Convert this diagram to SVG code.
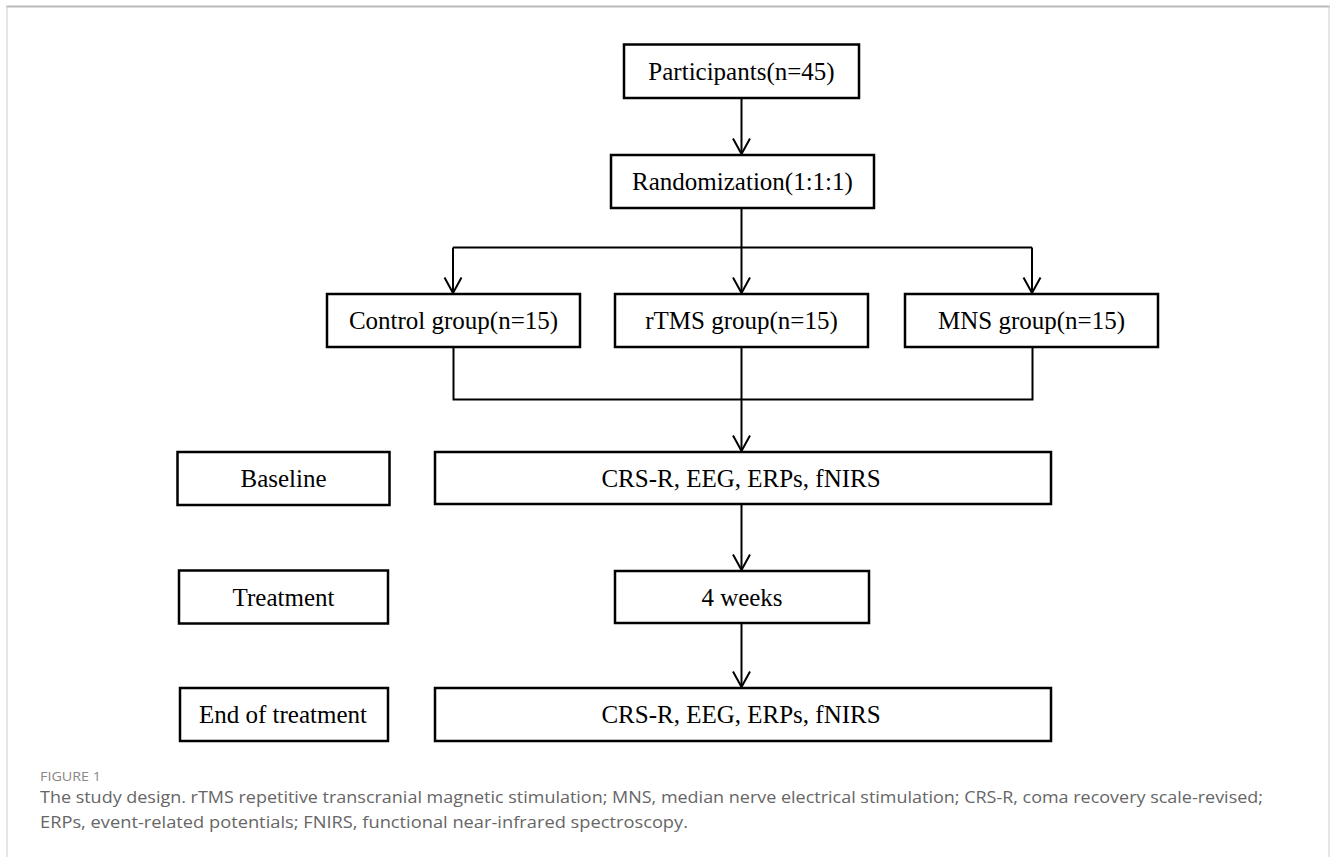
<svg xmlns="http://www.w3.org/2000/svg" width="1330" height="857" viewBox="0 0 1330 857">
<style>
.box{fill:#fff;stroke:#000;stroke-width:2.5}
.lbl{font-family:"Liberation Serif","Times New Roman",serif;font-size:25px;fill:#000;text-anchor:middle}
.con{fill:none;stroke:#000;stroke-width:2}
.cap{font-family:"Open Sans","Noto Sans",sans-serif;font-size:17px;fill:#666}
.fig{font-family:"Open Sans","Noto Sans",sans-serif;font-size:13px;fill:#888}
</style>
<defs>
<marker id="arr" markerUnits="userSpaceOnUse" viewBox="-18 -10 20 20" markerWidth="20" markerHeight="20" refX="0" refY="0" orient="auto">
<path d="M-15.5,-8.5 L0,0 L-15.5,8.5" fill="none" stroke="#000" stroke-width="2"/>
</marker>
</defs>
<rect width="1330" height="857" fill="#fff"/>
<g id="frame">
<line x1="6" y1="6.5" x2="1330" y2="6.5" stroke="#bbb" stroke-width="2"/>
<line x1="7" y1="6" x2="7" y2="857" stroke="#ccc" stroke-width="1"/>
<line x1="1329" y1="6" x2="1329" y2="857" stroke="#ccc" stroke-width="1"/>
</g>
<g id="connectors">
<path class="con" d="M741.5,98 V154" marker-end="url(#arr)"/>
<path class="con" d="M741.5,208 V247.5 M453,247.5 H1032"/>
<path class="con" d="M453,247.5 V293" marker-end="url(#arr)"/>
<path class="con" d="M741.5,247.5 V293" marker-end="url(#arr)"/>
<path class="con" d="M1032,247.5 V293" marker-end="url(#arr)"/>
<path class="con" d="M453.5,347 V399.5 H1032.5 V347"/>
<path class="con" d="M741.5,347 V451" marker-end="url(#arr)"/>
<path class="con" d="M741.5,504 V570" marker-end="url(#arr)"/>
<path class="con" d="M741.5,623 V687" marker-end="url(#arr)"/>
</g>
<g id="participants"><rect class="box" x="624" y="44.5" width="235" height="53.5"/><text class="lbl" x="741.5" y="80">Participants(n=45)</text></g>
<g id="randomization"><rect class="box" x="611" y="155" width="263" height="53"/><text class="lbl" x="742.5" y="190">Randomization(1:1:1)</text></g>
<g id="control"><rect class="box" x="327" y="294" width="253" height="53"/><text class="lbl" x="453.5" y="329">Control group(n=15)</text></g>
<g id="rtms"><rect class="box" x="615" y="294" width="253" height="53"/><text class="lbl" x="741.5" y="329">rTMS group(n=15)</text></g>
<g id="mns"><rect class="box" x="905" y="294" width="253" height="53"/><text class="lbl" x="1031.5" y="329">MNS group(n=15)</text></g>
<g id="baseline"><rect class="box" x="177.5" y="452" width="212" height="53"/><text class="lbl" x="283.5" y="487">Baseline</text></g>
<g id="measures1"><rect class="box" x="435" y="452" width="616" height="52"/><text class="lbl" x="741" y="486.5">CRS-R, EEG, ERPs, fNIRS</text></g>
<g id="treatment"><rect class="box" x="179" y="570.5" width="209" height="53"/><text class="lbl" x="283.5" y="605.5">Treatment</text></g>
<g id="weeks"><rect class="box" x="615" y="571" width="254" height="52"/><text class="lbl" x="742" y="605.5">4 weeks</text></g>
<g id="end"><rect class="box" x="180" y="688" width="208" height="53"/><text class="lbl" x="283" y="723">End of treatment</text></g>
<g id="measures2"><rect class="box" x="435" y="688" width="616" height="53"/><text class="lbl" x="741" y="723">CRS-R, EEG, ERPs, fNIRS</text></g>
<g id="caption">
<text class="fig" x="40" y="781" textLength="61" lengthAdjust="spacingAndGlyphs">FIGURE 1</text>
<text class="cap" x="40" y="803" textLength="1223" lengthAdjust="spacingAndGlyphs">The study design. rTMS repetitive transcranial magnetic stimulation; MNS, median nerve electrical stimulation; CRS-R, coma recovery scale-revised;</text>
<text class="cap" x="40" y="828" textLength="648" lengthAdjust="spacingAndGlyphs">ERPs, event-related potentials; FNIRS, functional near-infrared spectroscopy.</text>
</g>
</svg>
